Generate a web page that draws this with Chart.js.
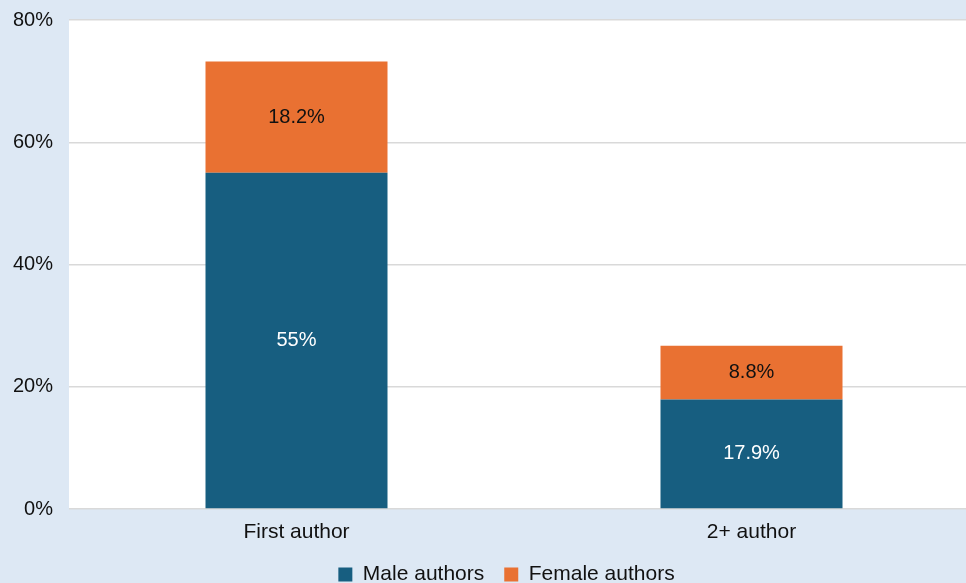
<!DOCTYPE html>
<html>
<head>
<meta charset="utf-8">
<script src="https://cdn.jsdelivr.net/npm/chart.js@4"></script>
<style>
body{margin:0;overflow:hidden;background:#dde8f4;}
</style>
</head>
<body>
<canvas id="my_Chart" width="979" height="595"></canvas>
<script>
var categories=["First author","2+ author"];
var maleValues=[55,17.9];
var femaleValues=[18.2,8.8];
var seriesNames=["Male authors","Female authors"];
var yTicks=[0,20,40,60,80];

var fontName='"Liberation Sans", Arial, Helvetica, sans-serif';

// light blue page, white plot area
var bgPlugin={
  id:'bg',
  beforeDraw:function(chart){
    var c=chart.ctx;
    var a=chart.chartArea;
    c.save();
    c.fillStyle='#dde8f4';
    c.fillRect(0,0,chart.width,chart.height);
    c.fillStyle='#ffffff';
    c.fillRect(a.left,a.top,a.right-a.left,a.bottom-a.top);
    c.restore();
  }
};

// legend sits a bit right of the canvas middle in the original
var legendShift={
  id:'legendShift',
  afterLayout:function(chart){
    chart.legend.left+=17;
    chart.legend.right+=17;
  }
};

// value labels in the middle of each segment
var labelPlugin={
  id:'barLabels',
  afterDatasetsDraw:function(chart){
    var c=chart.ctx;
    c.save();
    c.font='20px '+fontName;
    c.textAlign='center';
    c.textBaseline='middle';
    chart.data.datasets.forEach(function(ds,i){
      var meta=chart.getDatasetMeta(i);
      meta.data.forEach(function(bar,j){
        c.fillStyle=(i==0)?'#ffffff':'#111111';
        c.fillText(ds.data[j]+'%',bar.x,(bar.y+bar.base)/2);
      });
    });
    c.restore();
  }
};

var myData={
  labels:categories,
  datasets:[{
    label:seriesNames[0],
    data:maleValues,
    backgroundColor:'#175e80',
    barPercentage:0.5,
    categoryPercentage:0.8
  },{
    label:seriesNames[1],
    data:femaleValues,
    backgroundColor:'#e97132',
    barPercentage:0.5,
    categoryPercentage:0.8
  }]
};

var ctx=document.getElementById('my_Chart').getContext('2d');
var myChart=new Chart(ctx,{
  type:'bar',
  data:myData,
  plugins:[bgPlugin,legendShift,labelPlugin],
  options:{
    responsive:false,
    animation:false,
    devicePixelRatio:1,
    layout:{padding:{left:0,top:20,right:0,bottom:0}},
    plugins:{
      tooltip:{enabled:false},
      legend:{
        position:'bottom',
        labels:{
          boxWidth:14,
          boxHeight:14,
          padding:20,
          color:'#111111',
          font:{family:fontName,size:21}
        }
      }
    },
    scales:{
      x:{
        stacked:true,
        grid:{display:false,drawTicks:false},
        border:{display:false},
        ticks:{color:'#111111',padding:11,font:{family:fontName,size:21}},
        afterFit:function(s){s.height=35;}
      },
      y:{
        stacked:true,
        min:yTicks[0],
        max:yTicks[yTicks.length-1],
        grid:{color:'#d9d9d9',lineWidth:1.5,drawTicks:false},
        border:{display:false},
        ticks:{
          stepSize:yTicks[1]-yTicks[0],
          color:'#111111',
          padding:16,
          font:{family:fontName,size:20},
          callback:function(v){return v+'%';}
        },
        afterFit:function(s){
          s.width=69;
          s.paddingTop=0;
          s.paddingBottom=0;
        }
      }
    }
  }
});
</script>
</body>
</html>
